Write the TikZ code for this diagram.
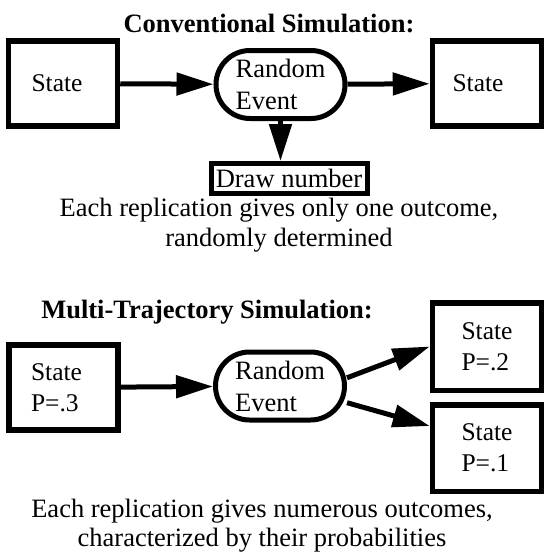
\documentclass[tikz,border=0pt]{standalone}
\usepackage{fontspec}
\setmainfont{Liberation Serif}
\usetikzlibrary{arrows.meta}

\begin{document}
\begin{tikzpicture}[x=1pt,y=-1pt,
	every node/.style={font=\fontsize{26.5}{32}\selectfont},
	titletext/.style={font=\fontsize{26.5}{32}\selectfont\bfseries,anchor=base},
	statebox/.style={draw,line width=5.5pt,minimum width=109pt,minimum height=85pt,align=left,inner sep=0pt,font=\fontsize{25.5}{31}\selectfont},
	eventbox/.style={draw,line width=5pt,rounded corners=34pt,minimum width=129pt,minimum height=68pt,align=left,inner sep=0pt},
	flow/.style={line width=5pt,-{Triangle[length=37pt,width=22pt]}}]
	\useasboundingbox (0,0) rectangle (545,555);
	% conventional simulation
	\node[titletext] (titleA) at (269,32) {Conventional Simulation:};
	\node[statebox] (stA) at (63,83.5) {State\kern12pt};
	\node[eventbox] (evA) at (280.5,84.5) {Random\\Event};
	\node[statebox] (stB) at (487,83.5) {State\kern18pt};
	\node[draw,line width=5pt,minimum width=156pt,minimum height=30pt,inner sep=0pt] (drawNum) at (289,178.5) {Draw number};
	\node[align=center,font=\fontsize{26.5}{30}\selectfont] (capA) at (279,225) {Each replication gives only one outcome,\\randomly determined};
	\draw[flow] (stA) -- (evA);
	\draw[flow] (evA) -- (stB);
	\draw[flow] (evA.south) -- (evA.south |- drawNum.north);
	% multi-trajectory simulation
	\node[titletext] (titleB) at (207,318) {Multi-Trajectory Simulation:};
	\node[statebox] (stC) at (63.5,387.5) {State\kern14pt\\P=.3};
	\node[eventbox] (evB) at (280,386) {Random\\Event};
	\node[statebox,minimum height=87.5pt] (stD) at (487,346.5) {State\\P=.2};
	\node[statebox,minimum height=86.5pt] (stE) at (487,448) {State\\P=.1};
	\node[align=center,font=\fontsize{26.5}{29}\selectfont] (capB) at (262,526) {Each replication gives numerous outcomes,\\characterized by their probabilities};
	\draw[flow] (stC) -- (evB);
	\draw[flow] (evB.7) -- (stD.west);
	\draw[flow] (evB.-14) -- (stE.159);
\end{tikzpicture}
\end{document}
